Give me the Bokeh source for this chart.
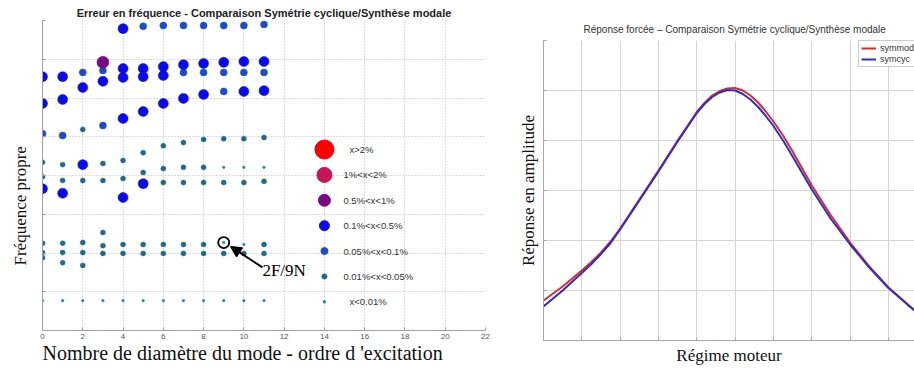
from bokeh.plotting import figure
from bokeh.layouts import row
from bokeh.models import (ColumnDataSource, Range1d, FixedTicker, Legend, LegendItem,
                          Arrow, NormalHead, Title)
from bokeh.core.properties import value
from bokeh.embed import file_html
from bokeh.resources import INLINE

# ---------------- Left chart data: frequency error by nodal diameter ----------------
err_classes = ["x>2%", "1%<x<2%", "0.5%<x<1%", "0.1%<x<0.5%",
               "0.05%<x<0.1%", "0.01%<x<0.05%", "x<0.01%"]

# eigen-frequency (relative units) and error class index, one list per nodal diameter
diam_0 = [6.55, 5.86, 5.08, 4.34, 3.97, 3.66, 2.25, 2.01, 1.88, 0.77]
cls_0 = [3, 3, 4, 5, 5, 3, 5, 5, 5, 6]
diam_1 = [6.55, 5.96, 5.03, 4.28, 3.87, 3.54, 2.25, 2.01, 1.75, 0.77]
cls_1 = [3, 3, 4, 5, 5, 3, 5, 5, 5, 6]
diam_2 = [6.66, 6.27, 5.19, 4.28, 3.87, 2.27, 2.01, 1.68, 0.77]
cls_2 = [4, 3, 5, 3, 5, 5, 5, 5, 6]
diam_3 = [6.92, 6.71, 6.43, 5.29, 4.31, 3.87, 2.53, 2.19, 1.99, 0.77]
cls_3 = [2, 4, 3, 4, 5, 5, 5, 5, 5, 6]
diam_4 = [7.79, 6.76, 6.53, 5.47, 4.39, 3.92, 3.43, 2.22, 1.99, 0.77]
cls_4 = [3, 3, 3, 3, 5, 5, 3, 5, 5, 6]
diam_5 = [7.85, 6.76, 6.55, 5.65, 4.59, 4.08, 3.79, 2.22, 1.99, 0.77]
cls_5 = [4, 3, 3, 3, 5, 5, 3, 5, 5, 6]
diam_6 = [7.87, 6.81, 6.58, 5.86, 4.77, 4.18, 3.82, 2.22, 1.99, 0.77]
cls_6 = [4, 3, 3, 3, 5, 5, 5, 5, 5, 6]
diam_7 = [7.87, 6.86, 6.66, 5.99, 4.85, 4.21, 3.82, 2.22, 1.99, 0.77]
cls_7 = [4, 3, 4, 3, 5, 5, 5, 5, 5, 6]
diam_8 = [7.87, 6.89, 6.66, 6.09, 4.93, 4.21, 3.82, 2.22, 1.99, 0.77]
cls_8 = [4, 3, 4, 3, 5, 5, 5, 5, 5, 6]
diam_9 = [7.87, 6.92, 6.66, 6.17, 4.95, 4.21, 3.82, 2.27, 1.99, 0.77]
cls_9 = [4, 3, 4, 4, 5, 6, 5, 6, 5, 6]
diam_10 = [7.87, 6.94, 6.66, 6.17, 4.95, 4.21, 3.82, 2.22, 1.99, 0.77]
cls_10 = [4, 3, 4, 3, 5, 6, 5, 6, 5, 6]
diam_11 = [7.90, 6.94, 6.66, 6.19, 4.98, 4.21, 3.85, 2.22, 1.99, 0.77]
cls_11 = [4, 3, 4, 3, 5, 6, 5, 5, 5, 6]

freq_cols = [diam_0, diam_1, diam_2, diam_3, diam_4, diam_5, diam_6,
             diam_7, diam_8, diam_9, diam_10, diam_11]
cls_cols = [cls_0, cls_1, cls_2, cls_3, cls_4, cls_5, cls_6,
            cls_7, cls_8, cls_9, cls_10, cls_11]

x_ticks_left = [0, 2, 4, 6, 8, 10, 12, 14, 16, 18, 20, 22]
y_grid_left = [0, 1, 2, 3, 4, 5, 6, 7, 8]

# annotation (mode 2F at 9 diameters)
annot_point = (9, 2.27)
annot_text = "2F/9N"
annot_text_pos = (10.92, 1.55)

# legend column (x value), top entry and step between entries
legend_x = 14
legend_top = 4.67
legend_step = 0.655

# ---------------- Right chart data: forced response ----------------
regime = [0.0, 0.5, 1.0, 1.25, 1.5, 1.75, 2.0, 2.5, 3.0, 3.5, 4.0, 4.2, 4.4, 4.6, 4.8, 5.0,
          5.2, 5.4, 5.6, 5.8, 6.0, 6.25, 6.5, 7.0, 7.5, 8.0, 8.5, 9.0, 9.3, 9.68]
symmod = [0.80, 1.08, 1.40, 1.57, 1.76, 1.98, 2.24, 2.82, 3.40, 4.00, 4.57, 4.75, 4.90, 4.99,
          5.04, 5.05, 5.00, 4.90, 4.76, 4.58, 4.38, 4.10, 3.78, 3.10, 2.50, 1.96, 1.48,
          1.06, 0.86, 0.60]
symcyc = [0.68, 1.00, 1.35, 1.53, 1.73, 1.95, 2.22, 2.80, 3.38, 3.98, 4.55, 4.73, 4.87, 4.96,
          5.01, 5.00, 4.93, 4.82, 4.67, 4.49, 4.29, 4.00, 3.68, 3.02, 2.43, 1.92, 1.46,
          1.05, 0.85, 0.60]
x_grid_right = [0, 1, 2, 3, 4, 5, 6, 7, 8, 9]
y_grid_right = [0, 1, 2, 3, 4, 5, 6]

# ---------------- styles ----------------
class_colors = ["#ff0000", "#c8145a", "#7a0a82", "#0a0af0", "#1a4ccc", "#1f6a8c", "#2a8a9a"]
class_sizes = [19, 15, 12, 10, 7, 5, 2.6]
legend_text_offsets = [25, 19, 19, 19, 19, 19, 25]
SANS = "Liberation Sans"
SERIF = "Liberation Serif"


def style_axis(ax, color):
    ax.axis_line_color = color
    ax.major_tick_line_color = color
    ax.minor_tick_line_color = color
    ax.major_tick_in = 3
    ax.major_tick_out = 0
    ax.minor_tick_in = 3
    ax.minor_tick_out = 0


# ================= LEFT FIGURE =================
p1 = figure(width=500, height=371, x_range=Range1d(0, 22), y_range=Range1d(0, 8),
            output_backend="svg", toolbar_location=None,
            min_border_left=42, min_border_right=15, min_border_top=20, min_border_bottom=41)
p1.frame_align = False
p1.outline_line_color = None
p1.background_fill_color = "white"
p1.border_fill_color = "white"

p1.title.text = "Erreur en fréquence - Comparaison Symétrie cyclique/Synthèse modale"
p1.title.align = "center"
p1.title.text_font = SANS
p1.title.text_font_size = "11px"
p1.title.text_font_style = "bold"
p1.title.text_color = "#222222"
p1.title.standoff = 4

p1.xaxis.ticker = FixedTicker(ticks=x_ticks_left, minor_ticks=[])
p1.yaxis.ticker = FixedTicker(ticks=[], minor_ticks=y_grid_left)
style_axis(p1.xaxis[0], "#a0a0a0")
style_axis(p1.yaxis[0], "#a0a0a0")
p1.xaxis.minor_tick_line_color = None
p1.xaxis.major_label_text_font = SANS
p1.xaxis.major_label_text_font_size = "8px"
p1.xaxis.major_label_text_color = "#555555"
p1.xaxis.major_label_standoff = 3
p1.xgrid.ticker = FixedTicker(ticks=x_ticks_left)
p1.ygrid.ticker = FixedTicker(ticks=y_grid_left)

xlab = Title(text="Nombre de diamètre du mode - ordre d 'excitation", align="left", offset=0,
             vertical_align="top", standoff=0,
             text_font=SERIF, text_font_size="20px", text_font_style="normal",
             text_color="#111111")
p1.add_layout(xlab, "below")
ylab = Title(text="Fréquence propre", align="left", offset=65, vertical_align="top",
             standoff=21,
             text_font=SERIF, text_font_size="17px", text_font_style="normal",
             text_color="#111111")
p1.add_layout(ylab, "left")

p1.grid.grid_line_color = "#b8b8b8"
p1.grid.grid_line_dash = "1 2"
p1.grid.grid_line_width = 1

# data points, drawn from the smallest class to the largest
xs_all, ys_all, cs_all = [], [], []
for d, (fcol, ccol) in enumerate(zip(freq_cols, cls_cols)):
    for f, c in zip(fcol, ccol):
        xs_all.append(d)
        ys_all.append(f)
        cs_all.append(c)

for k in range(len(err_classes) - 1, -1, -1):
    xs = [x for x, c in zip(xs_all, cs_all) if c == k]
    ys = [y for y, c in zip(ys_all, cs_all) if c == k]
    if xs:
        p1.scatter(xs, ys, size=class_sizes[k], fill_color=class_colors[k],
                   line_color=class_colors[k], line_width=0.5)

# hand-made legend inside the plot
legend_ys = [legend_top - i * legend_step for i in range(len(err_classes))]
leg_src = ColumnDataSource(dict(x=[legend_x] * len(err_classes), y=legend_ys,
                                size=class_sizes, color=class_colors, label=err_classes,
                                xo=legend_text_offsets))
p1.scatter("x", "y", size="size", fill_color="color", line_color="color", source=leg_src)
p1.text("x", "y", text="label", x_offset="xo", source=leg_src, text_baseline="middle",
        text_align="left", text_font=value(SANS), text_font_size="9.5px", text_color="#333333")

# annotation
p1.scatter([annot_point[0]], [annot_point[1]], size=11, fill_color=None,
           line_color="black", line_width=1.8)
p1.add_layout(Arrow(end=NormalHead(size=11, fill_color="black", line_color="black"),
                    x_start=annot_text_pos[0], y_start=annot_text_pos[1] + 0.08,
                    x_end=annot_point[0] + 0.33, y_end=annot_point[1] - 0.1,
                    line_color="black", line_width=2))
p1.text([annot_text_pos[0]], [annot_text_pos[1]], text=[annot_text], text_baseline="middle",
        text_align="left", text_font=value(SERIF), text_font_size="17px", text_color="black")

# ================= RIGHT FIGURE =================
p2 = figure(width=414, height=371, x_range=Range1d(0, 9.68), y_range=Range1d(0, 6),
            output_backend="svg", toolbar_location=None,
            min_border_left=43, min_border_right=0, min_border_top=40, min_border_bottom=31)
p2.frame_align = False
p2.outline_line_color = None
p2.background_fill_color = "white"
p2.border_fill_color = "white"
p2.title.text = "Réponse forcée – Comparaison Symétrie cyclique/Synthèse modale"
p2.title.align = "left"
p2.title.offset = 40
p2.title.text_font = SANS
p2.title.text_font_size = "10px"
p2.title.text_font_style = "normal"
p2.title.text_color = "#333333"
p2.title.standoff = 11

p2.xaxis.ticker = FixedTicker(ticks=[], minor_ticks=x_grid_right)
p2.yaxis.ticker = FixedTicker(ticks=[], minor_ticks=y_grid_right)
p2.xgrid.ticker = FixedTicker(ticks=x_grid_right)
p2.ygrid.ticker = FixedTicker(ticks=y_grid_right)
for ax in (p2.xaxis[0], p2.yaxis[0]):
    style_axis(ax, "#a8a8a8")
    ax.axis_label_text_font = SERIF
    ax.axis_label_text_font_size = "17px"
    ax.axis_label_text_font_style = "normal"
    ax.axis_label_text_color = "#111111"
p2.xaxis.axis_label = "Régime moteur"
p2.xaxis.axis_label_standoff = 5
p2.yaxis.axis_label = "Réponse en amplitude"
p2.yaxis.axis_label_standoff = 6
p2.grid.grid_line_color = "#d4d4d4"
p2.grid.grid_line_width = 1

r_mod = p2.line(regime, symmod, line_color="#e02828", line_width=2)
r_cyc = p2.line(regime, symcyc, line_color="#2e2ec8", line_width=2)

leg = Legend(items=[LegendItem(label="symmod", renderers=[r_mod]),
                    LegendItem(label="symcyc", renderers=[r_cyc])],
             location=(315, 273), orientation="vertical",
             label_text_font=SANS, label_text_font_size="9px", label_text_color="#333333",
             glyph_width=15, glyph_height=10, label_height=10, spacing=1, padding=2,
             margin=0, border_line_color="#999999", background_fill_color="white",
             label_standoff=4)
p2.add_layout(leg)

layout = row(p1, p2, spacing=0)
open("out.html", "w").write(file_html(layout, INLINE))
